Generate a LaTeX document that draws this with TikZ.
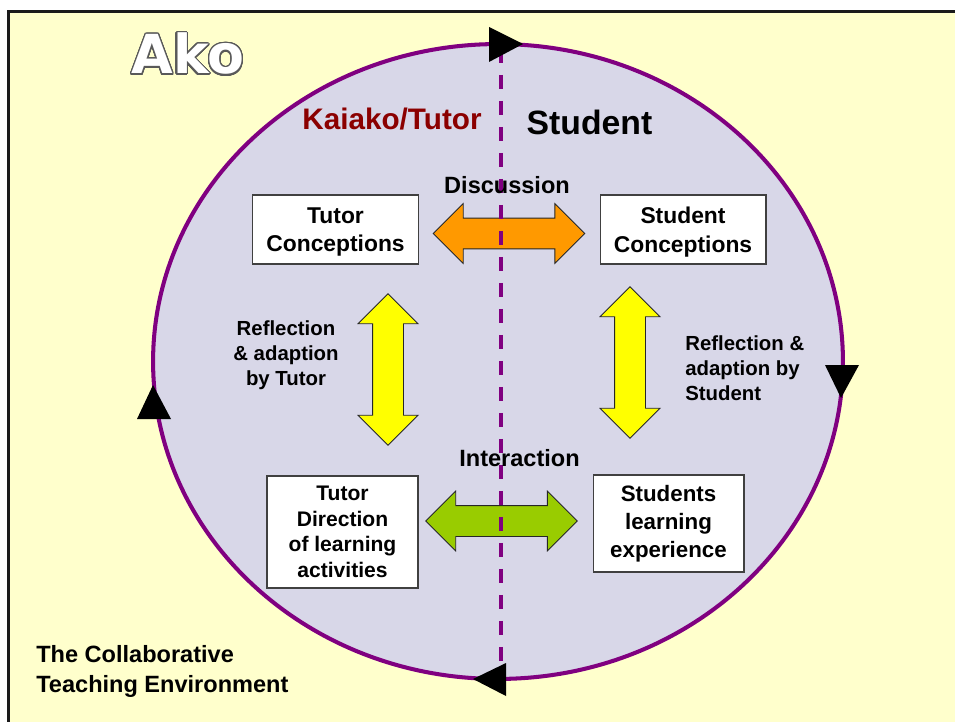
\documentclass[tikz,border=0pt]{standalone}
\usepackage{fontspec}
\usepackage{xcolor}
\usepackage{tikz}
\usepackage{contour}
\setmainfont{Liberation Sans}
\newfontfamily\akoface{DejaVu Sans}
\usetikzlibrary{
  arrows.meta,
  shapes,
  shapes.arrows,
  positioning,
  calc
}
\definecolor{akFrame}{HTML}{1A1A1A}
\definecolor{akPaper}{HTML}{FFFFCC}
\definecolor{akCircle}{HTML}{D8D7E8}
\definecolor{akPurple}{HTML}{800080}
\definecolor{akTutor}{HTML}{8B0000}
\definecolor{akOrange}{HTML}{FF9900}
\definecolor{akYellow}{HTML}{FFFF00}
\definecolor{akGreen}{HTML}{99CC00}
\contourlength{0.75pt}
\contournumber{32}
\tikzset{
  akbox/.style={
    draw=black!75, fill=white, line width=0.6pt, align=center,
    inner sep=0pt
  },
  aklabel/.style={inner sep=0pt, font=\bfseries\fontsize{13.4}{17}\selectfont},
  akarrow/.style={
    double arrow, draw=black!85, line width=0.5pt,
    inner xsep=0pt, inner ysep=0.3cm,
    double arrow tip angle=90, double arrow head extend=0.29cm,
    minimum width=1.19cm, minimum height=3.03cm
  },
  akmark/.style={fill=black},
  akdivide/.style={akPurple, line width=2pt, dash pattern=on 0.28cm off 0.24cm}
}

\begin{document}
\begin{tikzpicture}[x=0.02cm, y=-0.02cm]
  \clip (0,0) rectangle (955,722);
  \fill[white] (0,0) rectangle (955,722);
  \draw[akFrame, line width=1.7pt, fill=akPaper] (8.5,11.5) rectangle (965,735);

  % the ako cycle
  \draw[akPurple, line width=2.3pt, fill=akCircle] (498,361.5)
    ellipse [x radius=6.9cm, y radius=6.35cm];

  % concepts and learning boxes
  \node[akbox, minimum width=3.32cm, minimum height=1.38cm, text depth=0pt,
    font=\bfseries\fontsize{13}{16.3}\selectfont]
    (tutorConc) at (335.5,229.5) {Tutor\\Conceptions};
  \node[akbox, minimum width=3.32cm, minimum height=1.38cm, text depth=0pt,
    font=\bfseries\fontsize{13}{16.3}\selectfont]
    (studConc) at (683,229.5) {Student\\Conceptions};
  \node[akbox, minimum width=3.02cm, minimum height=2.24cm,
    font=\bfseries\fontsize{12}{14.5}\selectfont]
    (tutorDir) at (342.5,532) {Tutor\\Direction\\of learning\\activities};
  \node[akbox, minimum width=3.02cm, minimum height=1.94cm,
    font=\bfseries\fontsize{12.7}{15.9}\selectfont]
    (studLearn) at (668.5,523.5) {Students\\learning\\experience};

  % block arrows between them
  \node[akarrow, fill=akOrange] (discuss) at (509,233.5) {};
  \node[akarrow, fill=akYellow, rotate=90] (reflTutor) at (388,369.5) {};
  \node[akarrow, fill=akYellow, rotate=90] (reflStud) at (630,362.5) {};
  \node[akarrow, fill=akGreen] (interact) at (501.5,521) {};

  % tutor | student divide and the turning marks
  \coordinate (divTop) at (501,49);
  \coordinate (divBot) at (501,679);
  \draw[akdivide] (divTop) -- (divBot);
  \foreach \a/\b/\c in {{489,27}/{489,62}/{523,44},
                        {825,365}/{859,365}/{841,398},
                        {153,385}/{137,419}/{171,419},
                        {473,679}/{506,663}/{506,696}}{
    \fill[akmark] (\a) -- (\b) -- (\c) -- cycle;
  }

  \node[anchor=base, font=\akoface\bfseries\fontsize{30.6}{34}\selectfont]
    (title) at (188,74) {\contour{black!65}{\textcolor{white}{Ako}}};
  \node[aklabel, anchor=base, text=akTutor, font=\bfseries\fontsize{16.9}{19}\selectfont]
    (tutorHead) at (392,130) {Kaiako/Tutor};
  \node[aklabel, anchor=base, font=\bfseries\fontsize{19.2}{22}\selectfont]
    (studentHead) at (589.5,135) {Student};

  \node[aklabel, anchor=base] (discussTxt) at (507,194) {Discussion};
  \node[aklabel, anchor=base] (interactTxt) at (519.5,466) {Interaction};
  \node[aklabel, align=center, font=\bfseries\fontsize{11.6}{14.2}\selectfont]
    (reflTutorTxt) at (286,355) {Reflection\\\& adaption\\by Tutor};
  \node[aklabel, align=left, anchor=north west,
    font=\bfseries\fontsize{11.6}{14.2}\selectfont]
    (reflStudTxt) at (685,335) {Reflection \&\\adaption by\\Student};

  \node[aklabel, align=left, anchor=base west] (envTxt) at (36,692)
    {The Collaborative\\Teaching Environment};
\end{tikzpicture}
\end{document}
